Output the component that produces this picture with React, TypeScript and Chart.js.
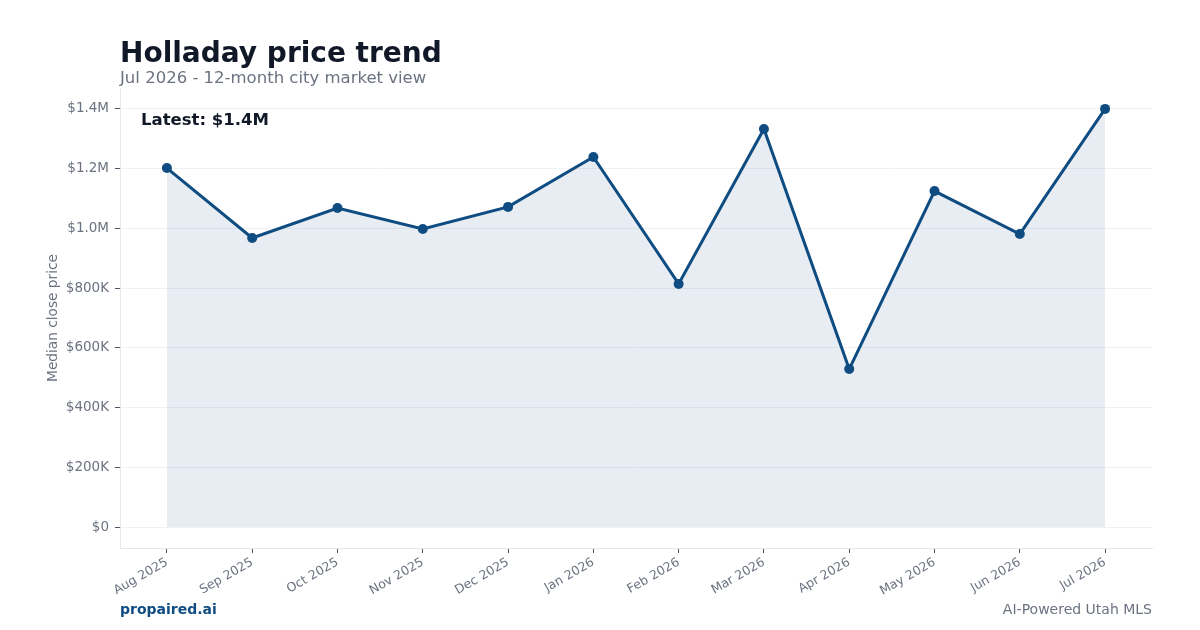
import React, { useEffect, useRef } from "react";
import { Chart, registerables } from "chart.js";

Chart.register(...registerables);

const months = [
  "Aug 2025", "Sep 2025", "Oct 2025", "Nov 2025", "Dec 2025", "Jan 2026",
  "Feb 2026", "Mar 2026", "Apr 2026", "May 2026", "Jun 2026", "Jul 2026",
];
const medianPrice = [
  1202000, 968000, 1068000, 998000, 1072000, 1239000,
  814000, 1333000, 529000, 1125000, 981000, 1400000,
];
const yTickValues = [0, 200000, 400000, 600000, 800000, 1000000, 1200000, 1400000];

const fmtMoney = (v: number) => {
  if (v === 0) return "$0";
  if (v >= 1000000) return "$" + (v / 1000000).toFixed(1) + "M";
  return "$" + Math.round(v / 1000) + "K";
};

const FONT = "'DejaVu Sans', sans-serif";

const textPlugin = {
  id: "texts",
  afterDraw(chart: any) {
    const ctx = chart.ctx;
    const area = chart.chartArea;
    ctx.save();
    ctx.textBaseline = "alphabetic";
    ctx.textAlign = "left";
    ctx.fillStyle = "#111827";
    ctx.font = `bold 28px ${FONT}`;
    ctx.fillText("Holladay price trend", 120, 62);
    ctx.fillStyle = "#6b7280";
    ctx.font = `16.5px ${FONT}`;
    ctx.fillText("Jul 2026 - 12-month city market view", 120, 83);
    ctx.fillStyle = "#111827";
    ctx.font = `bold 16.5px ${FONT}`;
    ctx.fillText("Latest: " + fmtMoney(medianPrice[medianPrice.length - 1]), 141, 125);
    ctx.fillStyle = "#0f4c81";
    ctx.font = `bold 14px ${FONT}`;
    ctx.fillText("propaired.ai", 120, 614);
    ctx.fillStyle = "#6b7280";
    ctx.font = `14px ${FONT}`;
    ctx.textAlign = "right";
    ctx.fillText("AI-Powered Utah MLS", 1152, 614);
    ctx.translate(57, (area.top + area.bottom) / 2);
    ctx.rotate(-Math.PI / 2);
    ctx.textAlign = "center";
    ctx.font = `13.7px ${FONT}`;
    ctx.fillText("Median close price", 0, 0);
    ctx.restore();
  },
};

export default function App() {
  const ref = useRef<HTMLCanvasElement>(null);
  useEffect(() => {
    if (!ref.current) return;
    const chart = new Chart(ref.current, {
      type: "line",
      data: {
        datasets: [
          {
            data: medianPrice.map((v, i) => ({ x: i, y: v })),
            borderColor: "#0f4c81",
            backgroundColor: "rgba(15,76,129,0.1)",
            borderWidth: 3,
            pointRadius: 5,
            pointBackgroundColor: "#0f4c81",
            pointBorderColor: "#0f4c81",
            pointBorderWidth: 0,
            fill: "origin",
            tension: 0,
          },
        ],
      },
      plugins: [textPlugin],
      options: {
        animation: false,
        responsive: false,
        layout: { padding: { top: 88, right: 48, left: 0, bottom: 0 } },
        plugins: { legend: { display: false }, tooltip: { enabled: false }, title: { display: false } },
        scales: {
          x: {
            type: "linear",
            min: -0.55,
            max: 11.55,
            afterFit: (s: any) => { s.height = 82; },
            afterBuildTicks: (s: any) => { s.ticks = months.map((_, i) => ({ value: i })); },
            ticks: {
              autoSkip: false,
              minRotation: 30,
              maxRotation: 30,
              color: "#6b7280",
              font: { family: FONT, size: 12.5 },
              padding: 2,
              callback: (v: any) => months[Math.round(Number(v))] ?? "",
            },
            grid: { drawOnChartArea: false, tickLength: 5, tickColor: "#4b5563", tickWidth: 1 },
            border: { display: true, color: "#e5e7eb", width: 1 },
          },
          y: {
            type: "linear",
            min: -70000,
            max: 1470000,
            afterFit: (s: any) => { s.width = 120; },
            afterBuildTicks: (s: any) => { s.ticks = yTickValues.map((v) => ({ value: v })); },
            ticks: {
              color: "#6b7280",
              font: { family: FONT, size: 13.5 },
              padding: 6,
              callback: (v: any) => fmtMoney(Number(v)),
            },
            grid: { color: "#f0f1f3", lineWidth: 1, tickLength: 5, tickColor: "#4b5563" },
            border: { display: true, color: "#e5e7eb", width: 1 },
          },
        },
      },
    });
    return () => chart.destroy();
  }, []);
  return (
    <div style={{ position: "fixed", left: 0, top: 0, width: 1200, height: 630, background: "#fff" }}>
      <canvas ref={ref} width={1200} height={630} style={{ display: "block" }} />
    </div>
  );
}
